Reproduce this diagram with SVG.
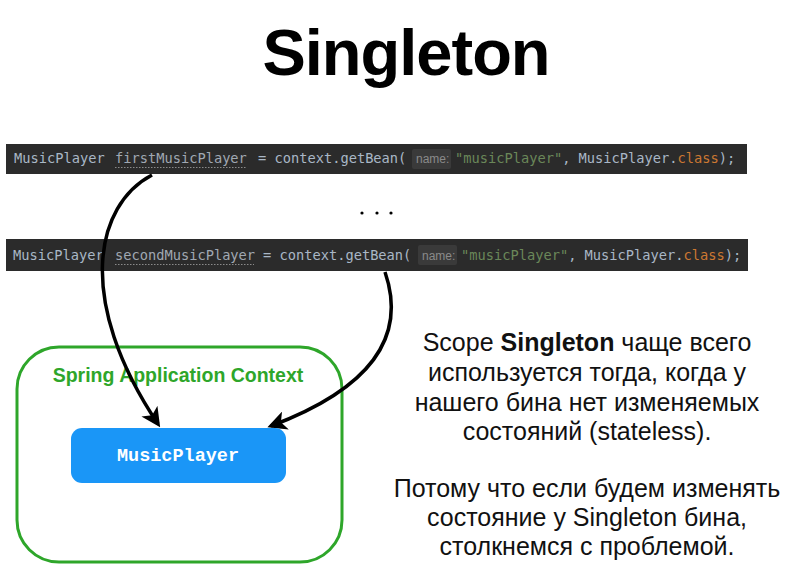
<svg xmlns="http://www.w3.org/2000/svg" width="796" height="576" viewBox="0 0 796 576">
<defs>
<style>
.bar{fill:#2b2b2b}
.code{font-family:"DejaVu Sans Mono","Liberation Mono",monospace;font-size:13.7px;fill:#a9b7c6}
.var{fill:#a0a8b2}
.str{fill:#6a8759}
.kw{fill:#cc7832}
.hintbox{fill:#3a3a3a}
.hint{font-family:"Liberation Sans",Arial,sans-serif;font-size:12px;fill:#8a8a8a}
.ul{stroke:#8a8a8a;stroke-width:1;stroke-dasharray:1.5 1.5}
.conn{fill:none;stroke:#000;stroke-width:3.5}
.body{font-family:"Liberation Sans",Arial,sans-serif;font-size:25px;fill:#111;text-anchor:middle}
</style>
<marker id="ah" viewBox="0 0 10 10" refX="8" refY="5" markerWidth="5.5" markerHeight="5.5" orient="auto" markerUnits="strokeWidth">
<path d="M0,0 L10,5 L0,10 L2.5,5 Z" fill="#000"/>
</marker>
</defs>
<rect width="796" height="576" fill="#fff"/>
<text x="406" y="75" font-family="Liberation Sans,Arial,sans-serif" font-weight="bold" font-size="65" letter-spacing="-1" text-anchor="middle" fill="#000">Singleton</text>

<g id="code1">
<rect class="bar" x="6" y="144" width="741" height="30"/>
<text class="code" y="163"><tspan x="14">MusicPlayer</tspan><tspan class="var" x="115">firstMusicPlayer</tspan><tspan x="258">= context.getBean(</tspan></text>
<line class="ul" x1="115" y1="167.5" x2="247" y2="167.5"/>
<rect class="hintbox" x="412" y="149" width="39" height="20" rx="2"/>
<text class="hint" x="416" y="163">name:</text>
<text class="code" y="163"><tspan class="str" x="455">"musicPlayer"</tspan><tspan>, MusicPlayer.</tspan><tspan class="kw">class</tspan><tspan>);</tspan></text>
</g>

<g id="dots" fill="#000">
<circle cx="362" cy="213" r="1.6"/>
<circle cx="377" cy="213" r="1.6"/>
<circle cx="391" cy="213" r="1.6"/>
</g>

<g id="code2">
<rect class="bar" x="6" y="239" width="742" height="32"/>
<text class="code" y="260"><tspan x="13">MusicPlayer</tspan><tspan class="var" x="115">secondMusicPlayer</tspan><tspan x="263">= context.getBean(</tspan></text>
<line class="ul" x1="115" y1="264.5" x2="254" y2="264.5"/>
<rect class="hintbox" x="418" y="245" width="39" height="20" rx="2"/>
<text class="hint" x="422" y="260">name:</text>
<text class="code" y="260"><tspan class="str" x="461">"musicPlayer"</tspan><tspan>, MusicPlayer.</tspan><tspan class="kw">class</tspan><tspan>);</tspan></text>
</g>

<g id="context">
<rect x="17" y="347" width="325" height="215" rx="42" fill="none" stroke="#2ea62a" stroke-width="3"/>
<text x="178" y="382" font-family="Liberation Sans,Arial,sans-serif" font-weight="bold" font-size="19.5" fill="#2ea62a" text-anchor="middle">Spring Application Context</text>
</g>

<g id="connectors">
<path class="conn" d="M152,175 C95,205 75,300 158,424" marker-end="url(#ah)"/>
<path class="conn" d="M385,272 C405,330 380,385 271,426" marker-end="url(#ah)"/>
</g>

<g id="musicplayer">
<rect x="71" y="428" width="215" height="55" rx="11" fill="#1a96f7"/>
<text x="178" y="461" font-family="Liberation Mono,Courier New,monospace" font-weight="bold" font-size="18.5" fill="#fff" text-anchor="middle">MusicPlayer</text>
</g>

<g id="note">
<text class="body" x="587" y="351">Scope <tspan font-weight="bold">Singleton</tspan> чаще всего</text>
<text class="body" x="587" y="381">используется тогда, когда у</text>
<text class="body" x="587" y="411">нашего бина нет изменяемых</text>
<text class="body" x="587" y="440">состояний (stateless).</text>
<text class="body" x="587" y="497">Потому что если будем изменять</text>
<text class="body" x="587" y="526">состояние у Singleton бина,</text>
<text class="body" x="587" y="555">столкнемся с проблемой.</text>
</g>
</svg>
